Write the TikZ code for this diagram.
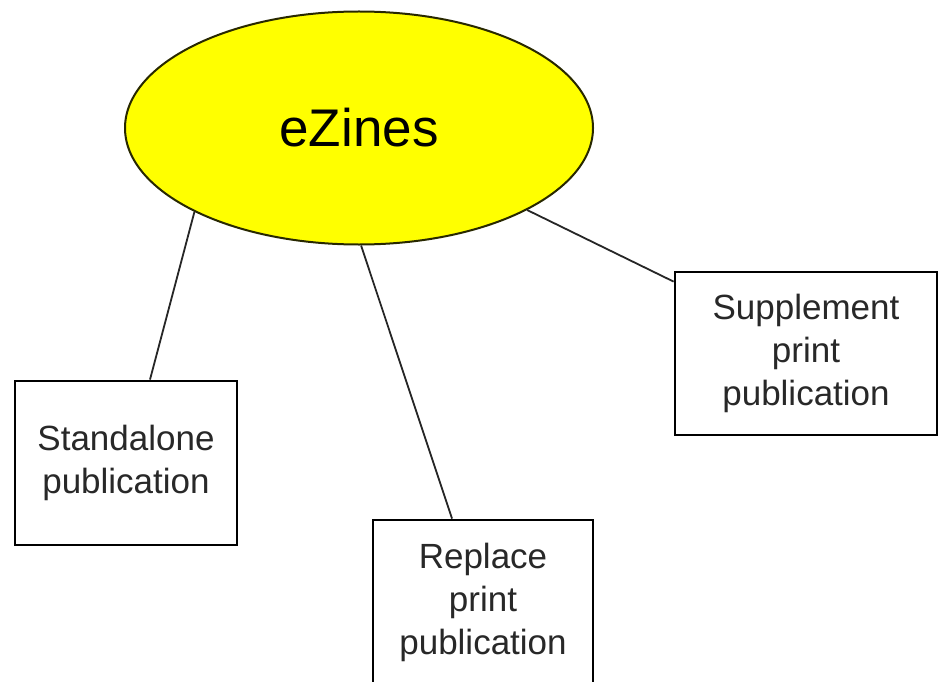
\documentclass[tikz,border=0pt]{standalone}
\usepackage{fontspec}
\setmainfont{Liberation Sans}
\usetikzlibrary{shapes.geometric}
\definecolor{ezyellow}{RGB}{255,255,0}
\definecolor{ezborder}{RGB}{40,40,0}
\definecolor{txtgray}{RGB}{40,40,40}
\tikzset{
  hub/.style={ellipse, draw=ezborder, line width=2pt, fill=ezyellow, inner sep=0pt,
    minimum width=468pt, minimum height=233pt, font=\fontsize{53}{60}\selectfont, text=black},
  leafbox/.style={rectangle, draw=black, line width=2.8pt, fill=white, inner sep=0pt,
    align=center, font=\fontsize{35}{43}\selectfont, text=txtgray},
  link/.style={draw=black!85, line width=1.8pt}
}
\begin{document}
\begin{tikzpicture}[x=1pt,y=-1pt]
\useasboundingbox (0,0) rectangle (939,682);
\fill[white] (0,0) rectangle (939,682);
\node[hub] (e) at (359,128) {eZines};
\node[leafbox, minimum width=222pt, minimum height=164pt] (s) at (126,463) {Standalone\\publication};
\node[leafbox, minimum width=262pt, minimum height=163pt] (p) at (806,353.5) {Supplement\\print\\publication};
\node[leafbox, minimum width=220pt, minimum height=165pt] (r) at (483,602.5) {Replace\\print\\publication};
\draw[link] (e.207) -- ([xshift=24pt]s.north);
\draw[link] (e.271) -- ([xshift=-31pt]r.north);
\draw[link] (e.334) -- ([yshift=-11pt]p.north west);
\end{tikzpicture}
\end{document}
